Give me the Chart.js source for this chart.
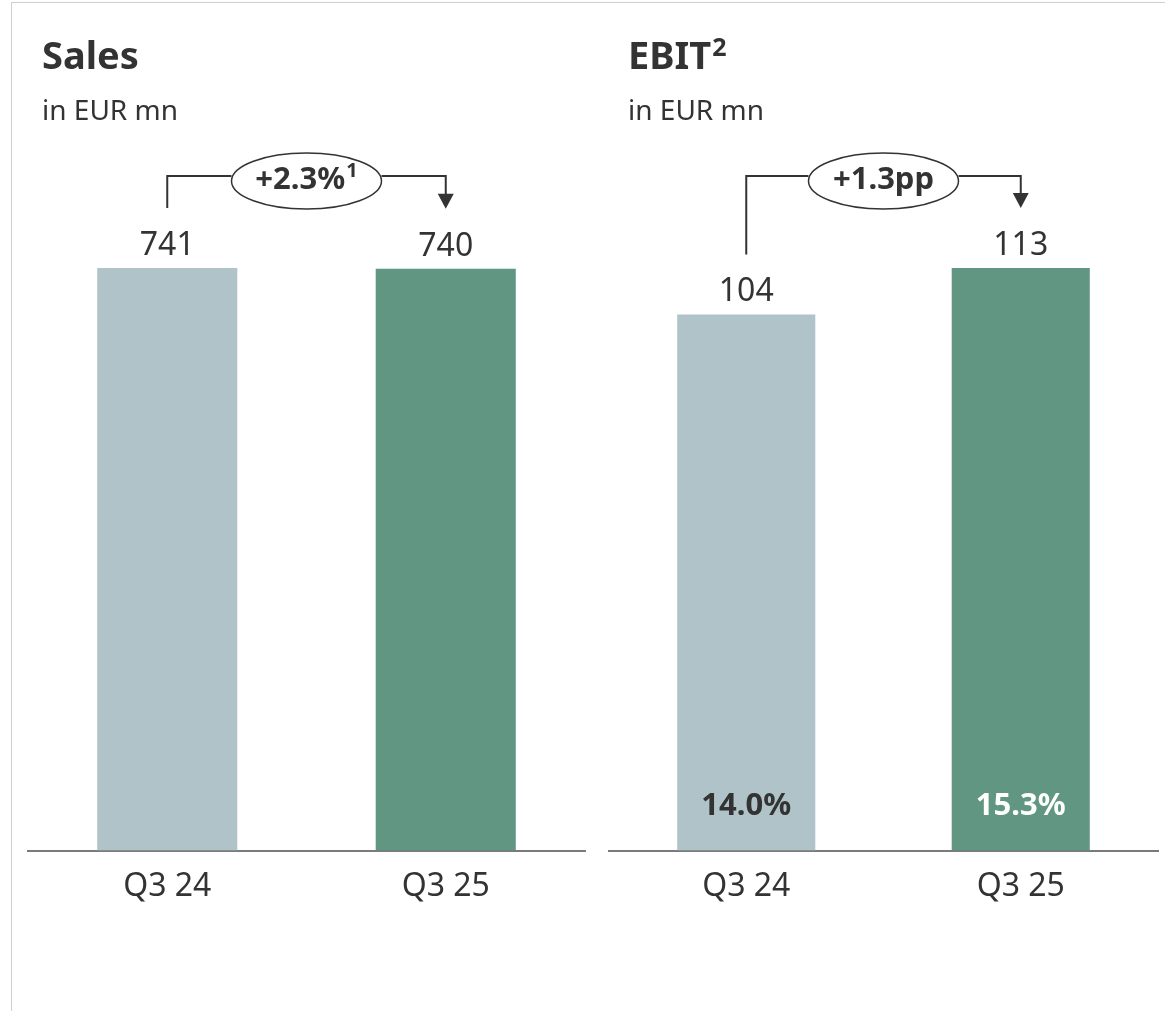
<!DOCTYPE html>
<html>
<head>
<meta charset="utf-8">
<script src="https://cdn.jsdelivr.net/npm/chart.js@4.4.1/dist/chart.umd.min.js"></script>
<style>
    html, body { margin: 0; padding: 0; background: #fff; }
    body { width: 1165px; height: 1011px; position: relative; overflow: hidden; font-family: 'Noto Sans', sans-serif; color: #333; }
    .frame { position: absolute; left: 11px; top: 2px; right: -2px; bottom: -2px; border-top: 1px solid #cfcfcf; border-left: 1px solid #cfcfcf; }
    .panel { position: absolute; top: 0; height: 1011px; }
    .panel canvas { position: absolute; left: 0; top: 0; }
    .title { position: absolute; top: 28px; font-size: 38px; font-weight: 700; line-height: 52px; white-space: nowrap; }
    .title sup { font-size: 25px; vertical-align: top; position: relative; top: -8px; margin-left: 1px; }
    .unit { position: absolute; top: 90px; font-size: 28px; line-height: 38px; white-space: nowrap; }
</style>
</head>
<body>
<div class="frame"></div>

<div class="panel" id="salesPanel" style="left:0;width:596px">
    <canvas id="salesChart" width="596" height="1011"></canvas>
</div>
<div class="panel" id="ebitPanel" style="left:596px;width:569px">
    <canvas id="ebitChart" width="569" height="1011"></canvas>
</div>

<div class="title" style="left:42px">Sales</div>
<div class="unit" style="left:42px">in EUR mn</div>
<div class="title" style="left:628px">EBIT<sup>2</sup></div>
<div class="unit" style="left:628px">in EUR mn</div>

<script>
// Quarterly figures
const quarters = ['Q3 24', 'Q3 25'];
const sales = [741, 740];
const ebit = [104, 113];
const ebitMargin = [14.0, 15.3];
const salesChange = ['+2.3%', '1'];
const ebitChange = ['+1.3pp', ''];

const colors = {
    prior: '#afc3c8',
    current: '#619683',
    text: '#333333',
    axis: '#7a7a7a'
};

// Value labels above bars, optional labels inside bars, and the change bracket
const barLabels = {
    id: 'barLabels',
    afterDatasetsDraw(chart, args, opts) {
        const ctx = chart.ctx;
        const bars = chart.getDatasetMeta(0).data;
        const values = chart.data.datasets[0].data;
        const bottom = chart.chartArea.bottom;

        ctx.save();
        ctx.textAlign = 'center';
        ctx.textBaseline = 'alphabetic';
        ctx.fillStyle = colors.text;
        ctx.font = "32px 'Noto Sans'";
        bars.forEach((bar, i) => {
            ctx.fillText(String(values[i]), bar.x, bar.y - 13);
        });

        if (opts.inner) {
            ctx.font = "bold 31px 'Noto Sans'";
            ctx.textBaseline = 'middle';
            bars.forEach((bar, i) => {
                ctx.fillStyle = opts.innerColors[i];
                ctx.fillText(opts.inner[i].toFixed(1) + '%', bar.x, bottom - 44);
            });
        }

        // bracket: leg up from first bar, ellipse with change, arrow down to second bar
        const x0 = bars[0].x, x1 = bars[1].x;
        const legEnd0 = bars[0].y - 60;
        const legEnd1 = bars[1].y - 60;
        const lineY = 176;
        const cx = (x0 + x1) / 2, cy = 181, rx = 75, ry = 28;

        ctx.strokeStyle = colors.text;
        ctx.fillStyle = colors.text;
        ctx.lineWidth = 2;
        ctx.beginPath();
        ctx.moveTo(x0, legEnd0);
        ctx.lineTo(x0, lineY);
        ctx.lineTo(cx - rx, lineY);
        ctx.moveTo(cx + rx, lineY);
        ctx.lineTo(x1, lineY);
        ctx.lineTo(x1, legEnd1 - 14);
        ctx.stroke();

        ctx.beginPath();
        ctx.moveTo(x1 - 8, legEnd1 - 15);
        ctx.lineTo(x1 + 8, legEnd1 - 15);
        ctx.lineTo(x1, legEnd1);
        ctx.closePath();
        ctx.fill();

        ctx.lineWidth = 1.5;
        ctx.beginPath();
        ctx.ellipse(cx, cy, rx, ry, 0, 0, Math.PI * 2);
        ctx.fillStyle = '#fff';
        ctx.fill();
        ctx.stroke();

        // change text with an optional footnote mark
        const [main, note] = opts.change;
        ctx.fillStyle = colors.text;
        ctx.font = "bold 31px 'Noto Sans'";
        const mainW = ctx.measureText(main).width;
        ctx.font = "bold 20px 'Noto Sans'";
        const noteW = note ? ctx.measureText(note).width + 1 : 0;
        const start = cx - (mainW + noteW) / 2;
        ctx.textAlign = 'left';
        ctx.textBaseline = 'alphabetic';
        ctx.font = "bold 31px 'Noto Sans'";
        ctx.fillText(main, start, cy + 8);
        if (note) {
            ctx.font = "bold 20px 'Noto Sans'";
            ctx.fillText(note, start + mainW + 1, cy - 4);
        }
        ctx.restore();
    }
};

function makeChart(id, values, padding, labelOpts) {
    return new Chart(document.getElementById(id), {
        type: 'bar',
        data: {
            labels: quarters,
            datasets: [{
                data: values,
                backgroundColor: [colors.prior, colors.current],
                borderWidth: 0,
                barPercentage: 0.503,
                categoryPercentage: 1
            }]
        },
        options: {
            responsive: false,
            animation: false,
            layout: { padding: padding },
            plugins: {
                legend: { display: false },
                tooltip: { enabled: false },
                barLabels: labelOpts
            },
            scales: {
                y: {
                    display: false,
                    min: 0,
                    max: Math.max(...values)
                },
                x: {
                    grid: { display: false, drawTicks: false },
                    border: { display: true, color: colors.axis, width: 2 },
                    ticks: {
                        color: colors.text,
                        padding: 17,
                        font: { family: "'Noto Sans'", size: 32 }
                    }
                }
            }
        },
        plugins: [barLabels]
    });
}

makeChart('salesChart', sales,
    { left: 28, right: 11, top: 268, bottom: 88 },
    { change: salesChange });

makeChart('ebitChart', ebit,
    { left: 13, right: 7, top: 268, bottom: 88 },
    { change: ebitChange, inner: ebitMargin, innerColors: [colors.text, '#ffffff'] });
</script>
</body>
</html>
